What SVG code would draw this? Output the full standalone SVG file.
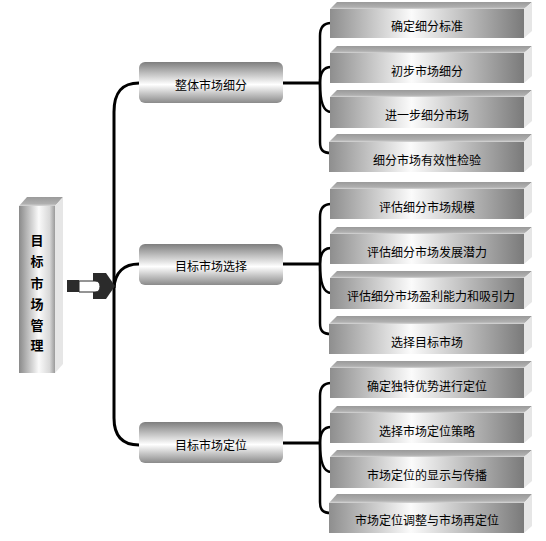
<svg xmlns="http://www.w3.org/2000/svg" width="546" height="541" viewBox="0 0 546 541">
<defs>
<linearGradient id="gFront" x1="0" y1="0" x2="1" y2="0">
<stop offset="0" stop-color="#8e8e8e"/>
<stop offset="0.42" stop-color="#fbfbfb"/>
<stop offset="1" stop-color="#7a7a7a"/>
</linearGradient>
<linearGradient id="gTop" x1="0" y1="0" x2="0" y2="1">
<stop offset="0" stop-color="#9a9a9a"/>
<stop offset="0.75" stop-color="#b0b0b0"/>
<stop offset="1" stop-color="#d8d8d8"/>
</linearGradient>
<linearGradient id="gMid" x1="0" y1="0" x2="0" y2="1">
<stop offset="0" stop-color="#7e7e7e"/>
<stop offset="0.55" stop-color="#ffffff"/>
<stop offset="1" stop-color="#8a8a8a"/>
</linearGradient>
<linearGradient id="gTall" x1="0" y1="0" x2="1" y2="0">
<stop offset="0" stop-color="#8a8a8a"/>
<stop offset="0.55" stop-color="#fafafa"/>
<stop offset="0.85" stop-color="#d8d8d8"/>
<stop offset="1" stop-color="#9a9a9a"/>
</linearGradient>
</defs>
<style>
.front{fill:url(#gFront);}
.top{fill:url(#gTop);}
.side{fill:#e6e6e6;}
.mid{fill:url(#gMid);}
.t{font-family:"Noto Sans CJK SC","Noto Sans",sans-serif;font-size:12px;fill:#000;text-anchor:middle;dominant-baseline:central;}
.tv{font-family:"Noto Sans CJK SC","Noto Sans",sans-serif;font-size:13px;font-weight:bold;fill:#000;text-anchor:middle;dominant-baseline:central;}
.ln{fill:none;stroke:#000;stroke-width:3;}
.br{fill:none;stroke:#000;stroke-width:2.5;}
</style>

<g id="connectors">
<!-- main trunk -->
<path class="ln" d="M114 112 L114 418"/>
<path class="ln" d="M114 112 C114 92 122 83 139 83"/>
<path class="ln" d="M114 288 C115 272 124 264 139 264"/>
<path class="ln" d="M114 418 C114 436 122 445 139 445"/>
<!-- horizontals -->
<path class="ln" d="M283 83 L320 83"/>
<path class="ln" d="M283 264 L320 264"/>
<path class="ln" d="M283 443 L320 443"/>
<!-- bracket group 1 -->
<path class="br" d="M331 23 C323 23 320 28 320 36 L320 142 C320 150 323 153 331 153"/>
<path class="br" d="M331 67 C323 67 320 74 320 83 C320 100 323 112 331 112"/>
<!-- bracket group 2 -->
<path class="br" d="M331 204 C323 204 320 209 320 217 L320 323 C320 331 323 334 331 334"/>
<path class="br" d="M331 248 C323 248 320 255 320 264 C320 281 323 293 331 293"/>
<!-- bracket group 3 -->
<path class="br" d="M331 383 C323 383 320 388 320 396 L320 502 C320 510 323 513 331 513"/>
<path class="br" d="M331 427 C323 427 320 434 320 443 C320 460 323 472 331 472"/>
</g>

<g id="root">
<polygon class="top" points="19,206 27,197 63,197 55,206"/>
<polygon class="side" points="55,206 63,197 63,364 55,373"/>
<rect x="19" y="206" width="36" height="167" fill="url(#gTall)"/>
<text class="tv" x="37" y="239">目</text>
<text class="tv" x="37" y="260">标</text>
<text class="tv" x="37" y="282">市</text>
<text class="tv" x="37" y="303">场</text>
<text class="tv" x="37" y="324">管</text>
<text class="tv" x="37" y="344">理</text>
</g>

<g id="arrow">
<rect x="67" y="280" width="12" height="12" fill="#2b2b2b"/>
<polygon points="93,273 106,273 115,286 106,299 93,299 93,292 93,280" fill="#2b2b2b"/>
<path d="M79 281 L95 281 Q100 281 100 286.5 Q100 292 95 292 L79 292 Z" fill="#fff" stroke="#2b2b2b" stroke-width="1"/>
</g>

<g id="m1">
<rect class="mid" x="139" y="62" width="144" height="41" rx="6"/>
<text class="t" x="211" y="84">整体市场细分</text>
</g>
<g id="m2">
<rect class="mid" x="139" y="244" width="144" height="41" rx="6"/>
<text class="t" x="211" y="265">目标市场选择</text>
</g>
<g id="m3">
<rect class="mid" x="139" y="422" width="144" height="41" rx="6"/>
<text class="t" x="211" y="444">目标市场定位</text>
</g>

<g id="a1">
<polygon class="top" points="330,9 337,2 532,2 524,9"/><polygon class="side" points="524,9 532,2 532,31 524,38"/>
<rect class="front" x="330" y="9" width="194" height="29"/>
<text class="t" x="427" y="25">确定细分标准</text>
</g>
<g id="a2">
<polygon class="top" points="330,53 337,46 532,46 524,53"/><polygon class="side" points="524,53 532,46 532,76 524,83"/>
<rect class="front" x="330" y="53" width="194" height="30"/>
<text class="t" x="427" y="70">初步市场细分</text>
</g>
<g id="a3">
<polygon class="top" points="330,97 337,90 532,90 524,97"/><polygon class="side" points="524,97 532,90 532,121 524,128"/>
<rect class="front" x="330" y="97" width="194" height="31"/>
<text class="t" x="427" y="114">进一步细分市场</text>
</g>
<g id="a4">
<polygon class="top" points="329,142 337,134 532,134 524,142"/><polygon class="side" points="524,142 532,134 532,165 524,172"/>
<rect class="front" x="329" y="142" width="195" height="30"/>
<text class="t" x="427" y="159">细分市场有效性检验</text>
</g>

<g id="b1">
<polygon class="top" points="330,189 337,182 532,182 524,189"/><polygon class="side" points="524,189 532,182 532,212 524,219"/>
<rect class="front" x="330" y="189" width="194" height="30"/>
<text class="t" x="427" y="206">评估细分市场规模</text>
</g>
<g id="b2">
<polygon class="top" points="330,234 337,227 532,227 524,234"/><polygon class="side" points="524,234 532,227 532,257 524,264"/>
<rect class="front" x="330" y="234" width="194" height="30"/>
<text class="t" x="427" y="251">评估细分市场发展潜力</text>
</g>
<g id="b3">
<polygon class="top" points="330,278 337,271 532,271 524,278"/><polygon class="side" points="524,278 532,271 532,302 524,309"/>
<rect class="front" x="330" y="278" width="194" height="31"/>
<text class="t" x="431" y="295">评估细分市场盈利能力和吸引力</text>
</g>
<g id="b4">
<polygon class="top" points="329,324 337,316 532,316 524,324"/><polygon class="side" points="524,324 532,316 532,347 524,354"/>
<rect class="front" x="329" y="324" width="195" height="30"/>
<text class="t" x="427" y="341">选择目标市场</text>
</g>

<g id="c1">
<polygon class="top" points="330,368 337,361 532,361 524,368"/><polygon class="side" points="524,368 532,361 532,391 524,398"/>
<rect class="front" x="330" y="368" width="194" height="30"/>
<text class="t" x="427" y="385">确定独特优势进行定位</text>
</g>
<g id="c2">
<polygon class="top" points="330,413 337,406 532,406 524,413"/><polygon class="side" points="524,413 532,406 532,436 524,443"/>
<rect class="front" x="330" y="413" width="194" height="30"/>
<text class="t" x="427" y="430">选择市场定位策略</text>
</g>
<g id="c3">
<polygon class="top" points="330,457 337,450 532,450 524,457"/><polygon class="side" points="524,457 532,450 532,481 524,488"/>
<rect class="front" x="330" y="457" width="194" height="31"/>
<text class="t" x="427" y="474">市场定位的显示与传播</text>
</g>
<g id="c4">
<polygon class="top" points="329,503 337,494 532,494 524,503"/><polygon class="side" points="524,503 532,494 532,526 524,533"/>
<rect class="front" x="329" y="503" width="195" height="30"/>
<text class="t" x="427" y="519">市场定位调整与市场再定位</text>
</g>
</svg>
